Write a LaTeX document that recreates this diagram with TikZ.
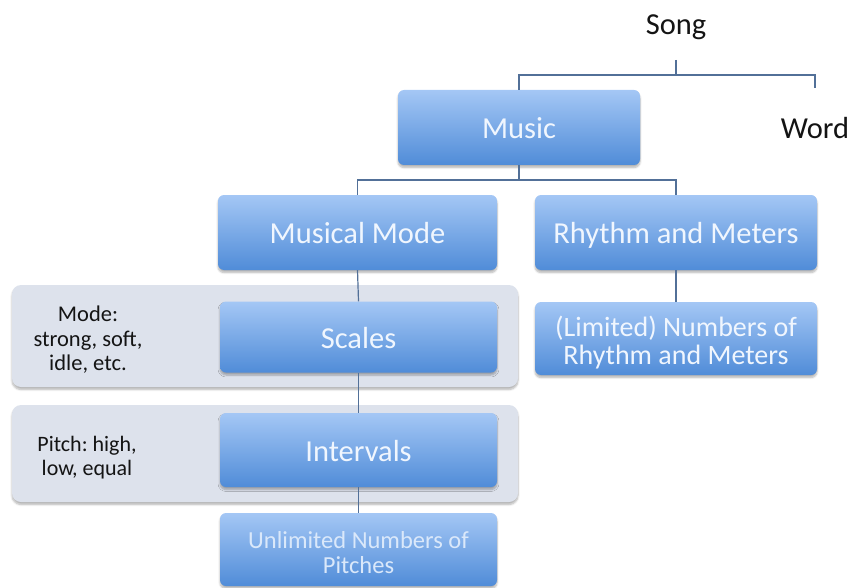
\documentclass[tikz,border=0pt]{standalone}
\usepackage{fontspec}
\setmainfont{Carlito}
\frenchspacing
\usetikzlibrary{shadows.blur}

\definecolor{boxtop}{RGB}{164,199,245}
\definecolor{boxbot}{RGB}{80,140,216}
\definecolor{boxtext}{RGB}{240,246,254}
\definecolor{paletext}{RGB}{218,232,250}
\definecolor{bandfill}{RGB}{221,226,236}
\definecolor{linkcol}{RGB}{82,112,152}
\definecolor{inktext}{RGB}{20,20,20}

\tikzset{
  bluebox/.style={rectangle, rounded corners=6pt, draw=none,
    top color=boxtop, bottom color=boxbot, text=boxtext, align=center,
    blur shadow={shadow xshift=0pt, shadow yshift=-2.5pt, shadow opacity=30, shadow blur steps=6},
    inner sep=2pt},
  bigtext/.style={font=\fontsize{30.5}{32}\selectfont, text height=22pt, text depth=0pt},
  boxlabel/.style={align=center, inner sep=0pt, text=boxtext},
  band/.style={rectangle, rounded corners=9pt, draw=none, fill=bandfill,
    blur shadow={shadow xshift=0pt, shadow yshift=-2.5pt, shadow opacity=30, shadow blur steps=6}},
  note/.style={align=center, text=inktext, inner sep=0pt},
  link/.style={draw=linkcol, line width=1.2pt}
}

\begin{document}
\begin{tikzpicture}[x=1pt, y=-1pt]
  \path[use as bounding box] (0,0) rectangle (853,588);

  % grey bands behind the two lower levels of the musical-mode branch
  \node[band, minimum width=506pt, minimum height=102pt] (bandmode) at (265,336) {};
  \node[band, minimum width=506pt, minimum height=97pt] (bandpitch) at (265,453.5) {};

  % top level
  \node[note, font=\fontsize{30.5}{32}\selectfont] (song) at (676,27.5) {Song};
  \node[note, font=\fontsize{30.5}{32}\selectfont] (word) at (815,128) {Word};
  \coordinate (songtop) at (676,60);
  \coordinate (songbar) at (676,75);
  \coordinate (wordend) at (815,88);
  \coordinate (musicbar) at (519,180);

  % blue boxes
  \node[bluebox, bigtext, minimum width=242pt, minimum height=75pt] (music) at (519,127.5) {Music};
  \node[bluebox, bigtext, minimum width=279pt, minimum height=75pt] (mode) at (357.5,232.5) {Musical Mode};
  \node[bluebox, bigtext, minimum width=282pt, minimum height=75pt] (rhythm) at (676,232.5) {Rhythm and Meters};
  \node[bluebox, bigtext, minimum width=277pt, minimum height=71pt] (scales) at (358.5,337) {Scales};
  \node[bluebox, minimum width=282pt, minimum height=73pt] (limited) at (676,338.5) {};
  \node[boxlabel, font=\fontsize{28}{28}\selectfont] (limitedtext) at (676,342.5) {(Limited) Numbers of\\Rhythm and Meters};
  \node[bluebox, bigtext, minimum width=277pt, minimum height=74pt] (intervals) at (358.5,450) {Intervals};
  \node[bluebox, minimum width=277pt, minimum height=73pt] (unlimited) at (358.5,549.5) {};
  \node[boxlabel, font=\fontsize{24.5}{25}\selectfont, text=paletext] (unlimitedtext) at (358.5,552.5) {Unlimited Numbers of\\Pitches};

  % side notes in the bands
  \node[note, font=\fontsize{22.5}{24.5}\selectfont] (modenote) at (88,340) {Mode:\\strong, soft,\\idle, etc.};
  \node[note, font=\fontsize{22}{24}\selectfont] (pitchnote) at (87,457.5) {Pitch: high,\\low, equal};

  % connectors
  \draw[link] (songtop) -- (songbar);
  \draw[link] (music.north) |- (songbar) -| (wordend);
  \draw[link] (music.south) -- (musicbar);
  \draw[link] (mode.north) |- (musicbar) -| (rhythm.north);
  \draw[link] (mode.south) -- (scales.north);
  \draw[link] (scales.south) -- (intervals.north);
  \draw[link] (intervals.south) -- (unlimited.north);
  \draw[link] (rhythm.south) -- (limited.north);
\end{tikzpicture}
\end{document}
